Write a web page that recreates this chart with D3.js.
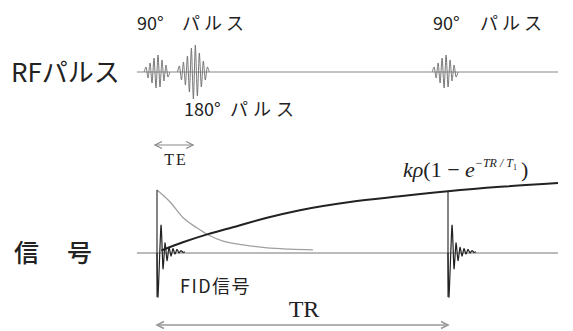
<!DOCTYPE html>
<html><head><meta charset="utf-8">
<script src="https://cdn.jsdelivr.net/npm/d3@7"></script>
<style>body{margin:0;background:#fff}svg{display:block}</style>
</head><body>
<script>
// ---- data (time in arbitrary units, TR = 100) ----
const pulseNames = ["90°", "180°", "90°"];
const pulseCenters = [0, 12.5, 99];
const pulse90 = [5, -6, 9, -11, 14, -16, 17, -15, 12, -9, 7, -5];
const pulse180 = [6, -8, 10, -13, 16, -20, 24, -27, 27, -24, 19, -15, 11, -8, 5];
const recoveryT = [1.5, 8.9, 17.5, 26.1, 37.8, 49.1, 66.3, 83.5, 100, 117.9, 137.8];
const recoveryM = [0.04, 0.17, 0.30, 0.41, 0.56, 0.68, 0.81, 0.90, 0.98, 1.05, 1.11];
const decayT = [0, 4.5, 9, 13.7, 17.5, 22.7, 29.6, 37.8, 45.7, 53.6];
const decayM = [1.0, 0.81, 0.56, 0.40, 0.29, 0.19, 0.13, 0.08, 0.06, 0.05];
const fidDt = [0, 0.34, 1.37, 2.06, 2.75, 3.44, 4.12, 4.81, 5.5, 6.19, 6.87, 7.56, 8.25, 8.93, 9.62];
const fidAmp = [0, -0.70, 0.44, -0.25, 0.16, -0.12, 0.09, -0.05, 0.07, -0.02, 0.06, 0.0, 0.04, 0.01, 0.02];
const fidStarts = [0, 100];
const timeRange = [-6.9, 137.8];
const TE = [-0.7, 12.4];
const TR = [0, 100];

const W = 573, H = 331;
const svg = d3.select("body").append("svg").attr("width", W).attr("height", H);

const x = d3.scaleLinear().domain([0, 100]).range([157, 448]);
const yRF = d3.scaleLinear().domain([-30, 30]).range([102, 42]);
const yS = d3.scaleLinear().domain([0, 1]).range([253, 190]);

const jp = "'Noto Sans CJK JP', 'Noto Sans', sans-serif";
const serif = "'Liberation Serif', 'DejaVu Serif', serif";

// ---- RF baseline ----
svg.append("line").attr("x1", x(timeRange[0])).attr("x2", x(timeRange[1]))
  .attr("y1", yRF(0)).attr("y2", yRF(0)).attr("stroke", "#888").attr("stroke-width", 1.2);

// ---- RF pulses ----
const step = 0.68;
const pulseLine = d3.line().x(d => x(d[0])).y(d => yRF(d[1])).curve(d3.curveCardinal.tension(0.3));
pulseCenters.forEach((c, i) => {
  const amps = pulseNames[i] === "180°" ? pulse180 : pulse90;
  const n = amps.length;
  const pts = [[c - (n / 2 + 0.5) * step, 0]];
  amps.forEach((a, k) => pts.push([c + (k - (n - 1) / 2) * step, a]));
  pts.push([c + (n / 2 + 0.5) * step, 0]);
  svg.append("path").attr("d", pulseLine(pts)).attr("fill", "none")
    .attr("stroke", "#666").attr("stroke-width", 0.9);
});

// ---- signal baseline ----
svg.append("line").attr("x1", x(timeRange[0])).attr("x2", x(timeRange[1]))
  .attr("y1", yS(0)).attr("y2", yS(0)).attr("stroke", "#777").attr("stroke-width", 1);

// ---- T2 decay (gray) ----
const sigLine = d3.line().x(d => x(d[0])).y(d => yS(d[1])).curve(d3.curveMonotoneX);
svg.append("path").attr("d", sigLine(decayT.map((t, i) => [t, decayM[i]])))
  .attr("fill", "none").attr("stroke", "#a0a0a0").attr("stroke-width", 1.3);

// ---- recovery curve ----
svg.append("path").attr("d", sigLine(recoveryT.map((t, i) => [t, recoveryM[i]])))
  .attr("fill", "none").attr("stroke", "#222").attr("stroke-width", 2);

// ---- vertical lines at excitations ----
const topAt = [decayM[0], recoveryM[recoveryT.indexOf(100)]];
fidStarts.forEach((s, i) => {
  svg.append("line").attr("x1", x(s)).attr("x2", x(s))
    .attr("y1", yS(topAt[i])).attr("y2", yS(-0.7))
    .attr("stroke", "#333").attr("stroke-width", 1.2);
});

// ---- FIDs ----
const fidLine = d3.line().x(d => x(d[0])).y(d => yS(d[1])).curve(d3.curveCardinal.tension(0.4));
fidStarts.forEach(s => {
  svg.append("path").attr("d", fidLine(fidDt.map((dt, i) => [s + dt, fidAmp[i]])))
    .attr("fill", "none").attr("stroke", "#222").attr("stroke-width", 1.2);
});

// ---- arrows ----
function dblArrow(x1, x2, y, col, w) {
  const g = svg.append("g").attr("stroke", col).attr("stroke-width", w).attr("fill", "none");
  g.append("line").attr("x1", x1).attr("x2", x2).attr("y1", y).attr("y2", y);
  g.append("path").attr("d", `M${x1 + 7},${y - 3.5}L${x1},${y}L${x1 + 7},${y + 3.5}`);
  g.append("path").attr("d", `M${x2 - 7},${y - 3.5}L${x2},${y}L${x2 - 7},${y + 3.5}`);
}
dblArrow(x(TE[0]), x(TE[1]), 145, "#888", 1.2);
dblArrow(x(TR[0]), x(TR[1]), 325, "#999", 1.6);

// ---- texts ----
function txt(s, tx, ty, size, fam, opts = {}) {
  return svg.append("text").attr("x", tx).attr("y", ty).attr("font-size", size)
    .attr("font-family", fam).attr("fill", opts.fill || "#222")
    .attr("font-weight", opts.weight || 400)
    .attr("letter-spacing", opts.ls || 0)
    .attr("text-anchor", opts.anchor || "start").text(s);
}
txt("90°", 137, 30, 18, jp);
txt("パルス", 182, 30, 18, jp, {ls: 4});
txt("90°", 433, 30, 18, jp);
txt("パルス", 480, 30, 18, jp, {ls: 4});
txt("180°", 184, 116, 18, jp);
txt("パルス", 230, 116, 18, jp, {ls: 5});
txt("RFパルス", 11, 82, 26, jp);
txt("信", 14, 262, 25, jp, {weight: 500});
txt("号", 67, 262, 25, jp, {weight: 500});
txt("FID信号", 180, 293, 18, jp, {ls: 1.5});
txt("TE", 176, 165, 16, serif, {anchor: "middle", ls: 2});
txt("TR", 304, 317, 24, serif, {anchor: "middle"});

// formula kρ(1 − e^{−TR/T1})
const f = svg.append("text").attr("x", 403).attr("y", 177).attr("font-family", serif)
  .attr("font-size", 22).attr("fill", "#222");
f.append("tspan").attr("font-style", "italic").text("kρ");
f.append("tspan").text("(1 − ");
f.append("tspan").attr("font-style", "italic").text("e");
f.append("tspan").attr("font-size", 12).attr("font-style", "italic").attr("dy", -10).text("−TR / T");
f.append("tspan").attr("font-size", 8).attr("dy", 3).text("1");
f.append("tspan").attr("dy", 7).attr("dx", 4).text(")");
</script>
</body></html>
